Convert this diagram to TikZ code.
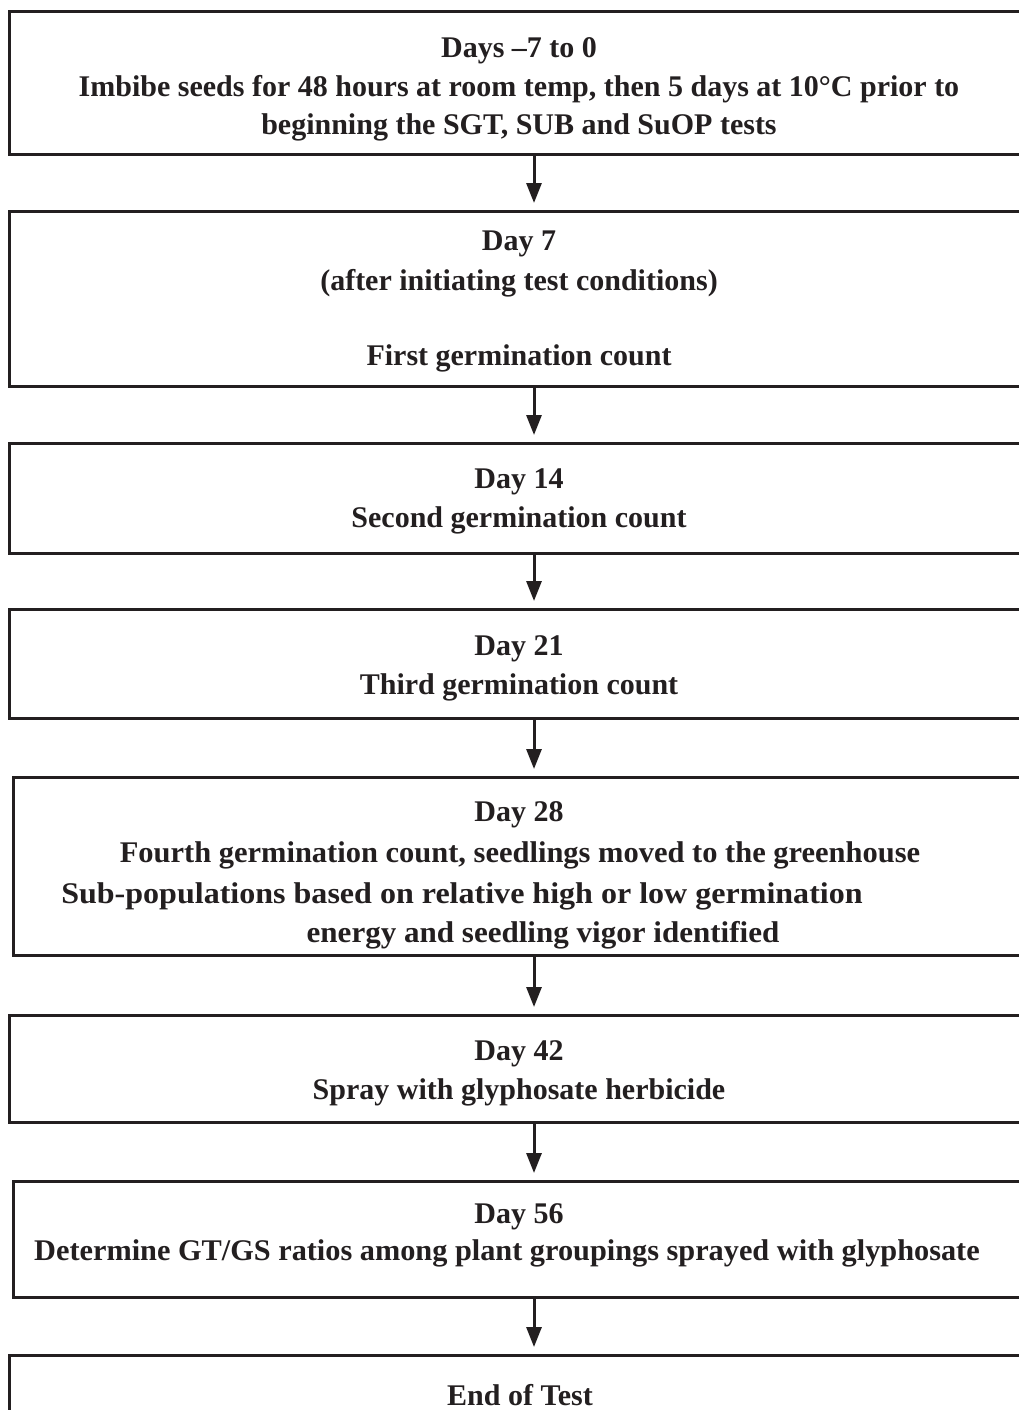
\documentclass[tikz,border=0pt]{standalone}
\usepackage{fontspec}
\setmainfont{Liberation Serif}
\usetikzlibrary{arrows.meta}
\definecolor{ink}{HTML}{231F20}
\begin{document}
\begin{tikzpicture}[x=1pt,y=-1pt,
  box/.style={draw=ink, line width=3pt, rectangle, anchor=north west, inner sep=0pt, outer sep=0pt},
  lbl/.style={anchor=base, font=\bfseries\fontsize{30}{38}\selectfont, text=ink, inner sep=0pt},
  arr/.style={draw=ink, line width=3pt, -{Triangle[width=15pt,length=20pt]}, shorten >=8pt}]
\clip (0,0) rectangle (1019,1410);
\fill[white] (0,0) rectangle (1019,1410);
% boxes
\node[box, minimum width=1031pt, minimum height=142pt] (b1) at (9,12) {};
\node[box, minimum width=1031pt, minimum height=175pt] (b2) at (9,211) {};
\node[box, minimum width=1031pt, minimum height=110pt] (b3) at (9,443) {};
\node[box, minimum width=1031pt, minimum height=109pt] (b4) at (9,609) {};
\node[box, minimum width=1027pt, minimum height=178pt] (b5) at (13,777) {};
\node[box, minimum width=1031pt, minimum height=107pt] (b6) at (9,1015) {};
\node[box, minimum width=1027pt, minimum height=116pt] (b7) at (13,1181) {};
\node[box, minimum width=1031pt, minimum height=100pt] (b8) at (9,1355) {};
% texts
\node[lbl] (t1a) at (519,58) {Days –7 to 0};
\node[lbl] (t1b) at (519,97) {Imbibe seeds for 48 hours at room temp, then 5 days at 10°C prior to};
\node[lbl] (t1c) at (519,135) {beginning the SGT, SUB and SuOP tests};
\node[lbl] (t2a) at (519,250) {Day 7};
\node[lbl] (t2b) at (519,290) {(after initiating test conditions)};
\node[lbl] (t2c) at (519,365) {First germination count};
\node[lbl] (t3a) at (519,488) {Day 14};
\node[lbl] (t3b) at (519,527) {Second germination count};
\node[lbl] (t4a) at (519,655) {Day 21};
\node[lbl] (t4b) at (519,694) {Third germination count};
\node[lbl] (t5a) at (519,821) {Day 28};
\node[lbl] (t5b) at (520,862) {\scalebox{1.016}[1]{Fourth germination count, seedlings moved to the greenhouse}};
\node[lbl] (t5c) at (462,903) {\scalebox{1.068}[1]{Sub-populations based on relative high or low germination}};
\node[lbl] (t5d) at (543,942) {\scalebox{1.035}[1]{energy and seedling vigor identified}};
\node[lbl] (t6a) at (519,1060) {Day 42};
\node[lbl] (t6b) at (519,1099) {Spray with glyphosate herbicide};
\node[lbl] (t7a) at (519,1223) {Day 56};
\node[lbl] (t7b) at (507,1260) {\scalebox{1.01}[1]{Determine GT/GS ratios among plant groupings sprayed with glyphosate}};
\node[lbl] (t8a) at (520,1405) {End of Test};
% connectors
\coordinate (ax) at (534,0);
\draw[arr] (b1.south -| ax) -- (b2.north -| ax);
\draw[arr] (b2.south -| ax) -- (b3.north -| ax);
\draw[arr] (b3.south -| ax) -- (b4.north -| ax);
\draw[arr] (b4.south -| ax) -- (b5.north -| ax);
\draw[arr] (b5.south -| ax) -- (b6.north -| ax);
\draw[arr] (b6.south -| ax) -- (b7.north -| ax);
\draw[arr] (b7.south -| ax) -- (b8.north -| ax);
\end{tikzpicture}
\end{document}
